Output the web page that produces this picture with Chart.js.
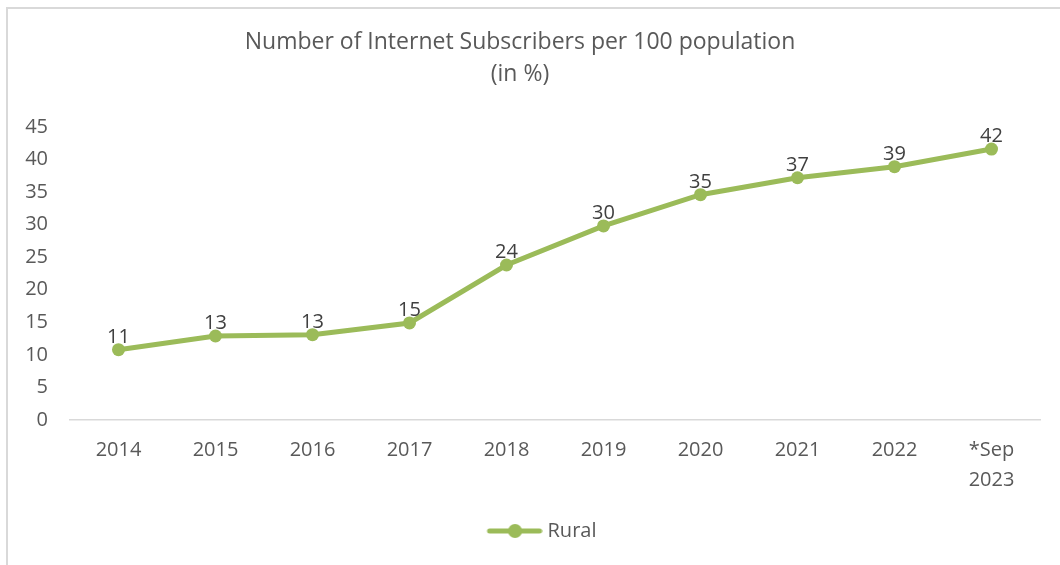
<!DOCTYPE html>
<html>
<head>
<meta charset="utf-8">
<script src="https://cdn.jsdelivr.net/npm/chart.js@4/dist/chart.umd.min.js"></script>
<style>
  html, body { margin: 0; padding: 0; background: #ffffff; overflow: hidden; width: 1060px; height: 565px; }
  #frame { position: absolute; left: 6px; top: 7px; width: 1200px; height: 700px; border-left: 2px solid #d9d9d9; border-top: 2px solid #d9d9d9; }
  #c { position: absolute; left: 0; top: 0; }
</style>
</head>
<body>
<div id="frame"></div>
<canvas id="c" width="1060" height="565"></canvas>
<script>
const categories = ["2014", "2015", "2016", "2017", "2018", "2019", "2020", "2021", "2022", ["*Sep", "2023"]];
const ruralValues = [10.8, 12.9, 13.1, 14.9, 23.8, 29.8, 34.6, 37.2, 38.9, 41.6];
const seriesName = "Rural";
const titleLines = ["Number of Internet Subscribers per 100 population", "(in %)"];
const yTickStep = 5;
const yMin = 0;
const yMax = 45;

const GREEN = "#9bbb59";
const FONT = "'Open Sans', Lato, sans-serif";

// legend symbol: line with marker (transparent left margin to match placement)
const sym = document.createElement("canvas");
sym.width = 104; sym.height = 16;
(function () {
  const g = sym.getContext("2d");
  g.strokeStyle = GREEN; g.lineWidth = 5; g.lineCap = "round";
  g.beginPath(); g.moveTo(51, 8); g.lineTo(101, 8); g.stroke();
  g.fillStyle = GREEN;
  g.beginPath(); g.arc(76.5, 8, 7, 0, Math.PI * 2); g.fill();
})();

const dataLabels = {
  id: "dataLabels",
  afterDatasetsDraw(chart) {
    const ctx = chart.ctx;
    ctx.save();
    ctx.font = "20px " + FONT;
    ctx.fillStyle = "#404040";
    ctx.textAlign = "center";
    ctx.textBaseline = "alphabetic";
    chart.data.datasets.forEach((ds, i) => {
      const meta = chart.getDatasetMeta(i);
      meta.data.forEach((pt, j) => {
        ctx.fillText(String(Math.round(ds.data[j])), pt.x, pt.y - 7);
      });
    });
    ctx.restore();
  }
};

new Chart(document.getElementById("c"), {
  type: "line",
  data: {
    labels: categories,
    datasets: [{
      label: seriesName,
      data: ruralValues,
      borderColor: GREEN,
      backgroundColor: GREEN,
      borderWidth: 5,
      pointRadius: 6.5,
      pointBorderWidth: 0,
      pointHoverRadius: 6.5,
      pointBackgroundColor: GREEN,
      tension: 0,
      fill: false
    }]
  },
  options: {
    responsive: false,
    devicePixelRatio: 1,
    animation: false,
    layout: { padding: { top: 0, left: 0, right: 20, bottom: 14 } },
    plugins: {
      title: {
        display: true,
        text: titleLines,
        color: "#595959",
        font: { family: FONT, size: 23, weight: "normal", lineHeight: 1.39 },
        padding: { top: 26, bottom: 37 }
      },
      legend: {
        display: true,
        position: "bottom",
        labels: {
          usePointStyle: true,
          pointStyle: sym,
          pointStyleWidth: 94,
          color: "#595959",
          font: { family: FONT, size: 20 },
          generateLabels(chart) {
            return chart.data.datasets.map((ds, i) => ({
              text: ds.label,
              pointStyle: sym,
              fillStyle: GREEN,
              strokeStyle: GREEN,
              lineWidth: 0,
              fontColor: "#595959",
              datasetIndex: i,
              hidden: false
            }));
          }
        }
      },
      tooltip: { enabled: false }
    },
    scales: {
      x: {
        offset: true,
        grid: { display: false, drawTicks: false },
        border: { display: true, color: "#d9d9d9", width: 1.5 },
        ticks: {
          color: "#595959",
          font: { family: FONT, size: 20, lineHeight: 1.5 },
          padding: 15,
          maxRotation: 0,
          autoSkip: false
        },
        afterFit(scale) { scale.height = 91; }
      },
      y: {
        min: yMin,
        max: yMax,
        grid: { display: false, drawTicks: false },
        border: { display: false },
        ticks: {
          stepSize: yTickStep,
          color: "#595959",
          font: { family: FONT, size: 20 },
          padding: 22
        },
        afterFit(scale) { scale.width = 70; }
      }
    }
  },
  plugins: [dataLabels]
});
</script>
</body>
</html>
